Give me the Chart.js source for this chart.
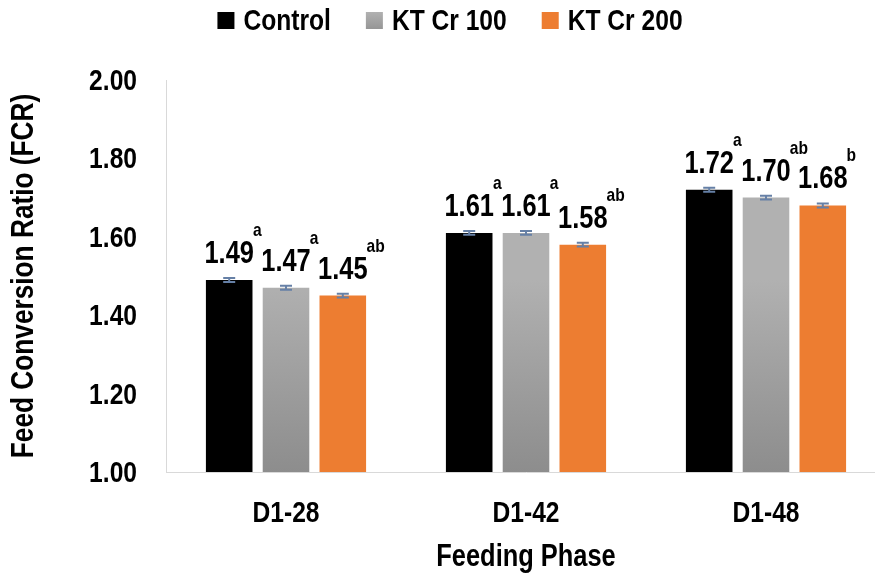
<!DOCTYPE html>
<html>
<head>
<meta charset="utf-8">
<script src="https://cdn.jsdelivr.net/npm/chart.js@4"></script>
<style>
  html, body { margin: 0; padding: 0; background: #fff; overflow: hidden; }
  #wrap { width: 900px; height: 576px; }
</style>
</head>
<body>
<div id="wrap"><canvas id="c" width="900" height="576"></canvas></div>
<script>
// datos
const phases = ['D1-28', 'D1-42', 'D1-48'];
const control = [1.49, 1.61, 1.72];
const ktCr100 = [1.47, 1.61, 1.70];
const ktCr200 = [1.45, 1.58, 1.68];
const errControl = [0.005, 0.005, 0.005];
const errKt100 = [0.005, 0.005, 0.005];
const errKt200 = [0.005, 0.005, 0.005];
const letControl = ['a', 'a', 'a'];
const letKt100 = ['a', 'a', 'ab'];
const letKt200 = ['ab', 'ab', 'b'];
const yTicks = [1.0, 1.2, 1.4, 1.6, 1.8, 2.0];
const seriesNames = ['Control', 'KT Cr 100', 'KT Cr 200'];

const FONT = "'Liberation Sans', Arial, sans-serif";
const NARROW = 0.82; // imita Arial Narrow

// texto estrecho: escala horizontal
function narrowText(c, txt, x, y, size, align, rot) {
  c.save();
  c.font = 'bold ' + size + 'px ' + FONT;
  c.fillStyle = '#000';
  c.textBaseline = 'alphabetic';
  c.translate(x, y);
  if (rot) c.rotate(rot);
  c.scale(NARROW, 1);
  c.textAlign = align;
  c.fillText(txt, 0, 0);
  c.restore();
}
function narrowWidth(c, txt, size) {
  c.save();
  c.font = 'bold ' + size + 'px ' + FONT;
  const w = c.measureText(txt).width * NARROW;
  c.restore();
  return w;
}

function greyFill(ctx) {
  const area = ctx.chart.chartArea;
  if (!area) return '#a6a6a6';
  const g = ctx.chart.ctx.createLinearGradient(0, area.top + 200, 0, area.bottom);
  g.addColorStop(0, '#b1b1b1');
  g.addColorStop(1, '#8d8d8d');
  return g;
}

const textPlugin = {
  id: 'textos',
  afterDraw(chart) {
    const c = chart.ctx;
    const ys = chart.scales.y, xs = chart.scales.x, area = chart.chartArea;

    // ticks del eje y
    yTicks.forEach(v => narrowText(c, v.toFixed(2), 137, ys.getPixelForValue(v) + 10, 30, 'right'));
    // ticks del eje x
    phases.forEach((p, i) => narrowText(c, p, xs.getPixelForValue(i), 522, 30, 'center'));
    // titulos
    narrowText(c, 'Feeding Phase', (area.left + area.right) / 2, 566, 31, 'center');
    narrowText(c, 'Feed Conversion Ratio (FCR)', 33, (area.top + area.bottom) / 2, 32, 'center', -Math.PI / 2);

    // leyenda
    const cols = ['#000000', null, '#ed7d31'];
    const box = 17, gapTxt = 9, gapItem = 35, lsize = 30;
    const widths = seriesNames.map(n => box + gapTxt + narrowWidth(c, n, lsize));
    const total = widths.reduce((a, b) => a + b, 0) + gapItem * (widths.length - 1);
    let x = chart.width / 2 - total / 2;
    seriesNames.forEach((n, i) => {
      let fill = cols[i];
      if (!fill) {
        fill = c.createLinearGradient(0, 12, 0, 29);
        fill.addColorStop(0, '#b1b1b1');
        fill.addColorStop(1, '#969696');
      }
      c.fillStyle = fill;
      c.fillRect(x, 12, box, box);
      narrowText(c, n, x + box + gapTxt, 30, lsize, 'left');
      x += widths[i] + gapItem;
    });

    // barras de error, valores y letras
    chart.data.datasets.forEach((ds, di) => {
      const meta = chart.getDatasetMeta(di);
      meta.data.forEach((bar, i) => {
        const v = ds.data[i];
        const e = ds.err[i];
        const yTop = ys.getPixelForValue(v + e);
        const yBot = ys.getPixelForValue(v - e);
        c.save();
        c.strokeStyle = '#6680a6';
        c.lineWidth = 2;
        c.beginPath();
        c.moveTo(bar.x, yTop); c.lineTo(bar.x, yBot);
        c.moveTo(bar.x - 6, yTop); c.lineTo(bar.x + 6, yTop);
        c.moveTo(bar.x - 6, yBot); c.lineTo(bar.x + 6, yBot);
        c.stroke();
        c.restore();

        const txt = v.toFixed(2);
        const ty = bar.y - 17;
        narrowText(c, txt, bar.x, ty, 31, 'center');
        const w = narrowWidth(c, txt, 31);
        narrowText(c, ds.letters[i], bar.x + w / 2 - 1, ty - 27, 19, 'left');
      });
    });
  }
};

new Chart(document.getElementById('c'), {
  type: 'bar',
  data: {
    labels: phases,
    datasets: [
      { label: seriesNames[0], data: control, err: errControl, letters: letControl, backgroundColor: '#000000' },
      { label: seriesNames[1], data: ktCr100, err: errKt100, letters: letKt100, backgroundColor: greyFill },
      { label: seriesNames[2], data: ktCr200, err: errKt200, letters: letKt200, backgroundColor: '#ed7d31' }
    ]
  },
  options: {
    responsive: false,
    animation: false,
    devicePixelRatio: 1,
    layout: { padding: { top: 80, right: 14, left: 0, bottom: 0 } },
    datasets: { bar: { categoryPercentage: 0.71, barPercentage: 0.82 } },
    plugins: { legend: { display: false }, tooltip: { enabled: false } },
    scales: {
      x: {
        grid: { display: false, drawTicks: false },
        border: { color: '#d9d9d9', width: 1 },
        ticks: { display: false },
        afterFit(axis) { axis.height = 104; }
      },
      y: {
        min: 1, max: 2,
        afterBuildTicks(axis) { axis.ticks = yTicks.map(v => ({ value: v })); },
        grid: { display: false, drawTicks: false },
        border: { color: '#d9d9d9', width: 1 },
        ticks: { display: false },
        afterFit(axis) { axis.width = 166; }
      }
    }
  },
  plugins: [textPlugin]
});
</script>
</body>
</html>
